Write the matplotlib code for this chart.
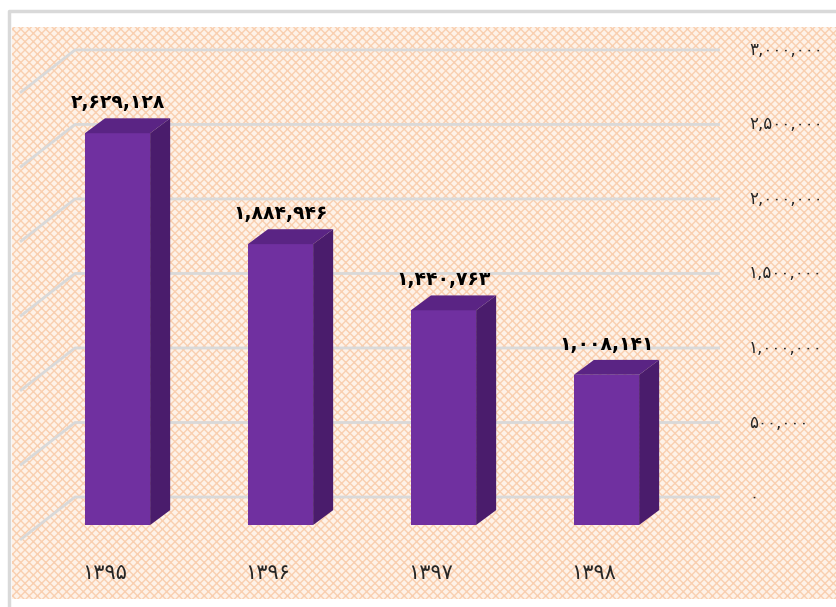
import matplotlib.pyplot as plt
from matplotlib.patches import Polygon, Rectangle

# data (Persian year labels, values)
years = ["۱۳۹۵", "۱۳۹۶", "۱۳۹۷", "۱۳۹۸"]
values = [2629128, 1884946, 1440763, 1008141]
value_labels = ["۲,۶۲۹,۱۲۸", "۱,۸۸۴,۹۴۶", "۱,۴۴۰,۷۶۳", "۱,۰۰۸,۱۴۱"]
y_ticks = [0, 500000, 1000000, 1500000, 2000000, 2500000, 3000000]
y_tick_labels = ["۰", "۵۰۰,۰۰۰", "۱,۰۰۰,۰۰۰", "۱,۵۰۰,۰۰۰",
                 "۲,۰۰۰,۰۰۰", "۲,۵۰۰,۰۰۰", "۳,۰۰۰,۰۰۰"]

plt.rcParams['font.family'] = ['DejaVu Sans']
plt.rcParams['hatch.linewidth'] = 1.0

fig = plt.figure(figsize=(8.36, 6.07), dpi=100)
ax = fig.add_axes([0, 0, 1, 1])
ax.set_xlim(-0.721, 4.408)
ax.set_ylim(-550000, 3523000)
ax.axis("off")

# 3d look: depth of bars and back wall offset (data units)
dx, dy = 0.123, 100000
wall_dy = 188000
wall_x0, wall_x1 = -0.261, 3.696
diag_x, diag_dy = -0.598, -288000
bar_w = 0.4

# frame (top and left only) and patterned background
ax.plot([0.011, 0.011, 1.0], [0.0, 0.982, 0.982], transform=ax.transAxes,
        color="#d9d9d9", lw=2.5, zorder=0.6, clip_on=False)
ax.add_patch(Rectangle((0.014, 0.013), 1.0, 0.942, transform=ax.transAxes,
                       facecolor="#fef2e8", edgecolor="#f9cfb0", hatch="xxxx",
                       lw=0, zorder=0.5))

# gridlines on back wall + floor diagonals
for v in y_ticks:
    yy = v + wall_dy
    ax.plot([diag_x, wall_x0, wall_x1], [yy + diag_dy, yy, yy],
            color="#d9d9d9", lw=2, zorder=1, solid_capstyle="butt")
    ax.text(3.875, yy, y_tick_labels[y_ticks.index(v)], ha="left",
            va="center", fontsize=12, color="#262626", zorder=5)

front = "#7030a0"
top_c = "#5a2484"
side_c = "#4a1c6c"
for i, v in enumerate(values):
    x0 = i - bar_w / 2
    x1 = i + bar_w / 2
    ax.bar(i, v, width=bar_w, color=front, zorder=3)
    ax.add_patch(Polygon([(x0, v), (x1, v), (x1 + dx, v + dy), (x0 + dx, v + dy)],
                         closed=True, facecolor=top_c, edgecolor="none", zorder=3))
    ax.add_patch(Polygon([(x1, 0), (x1 + dx, dy), (x1 + dx, v + dy), (x1, v)],
                         closed=True, facecolor=side_c, edgecolor="none", zorder=3))
    ax.text(i, v + 205000, value_labels[i], ha="center", va="center",
            fontsize=13.5, fontweight="bold", color="black", zorder=5)
    ax.text(i - 0.08, -325000, years[i], ha="center", va="center",
            fontsize=15, color="#262626", zorder=5)

fig.savefig("out.png", dpi=100)
